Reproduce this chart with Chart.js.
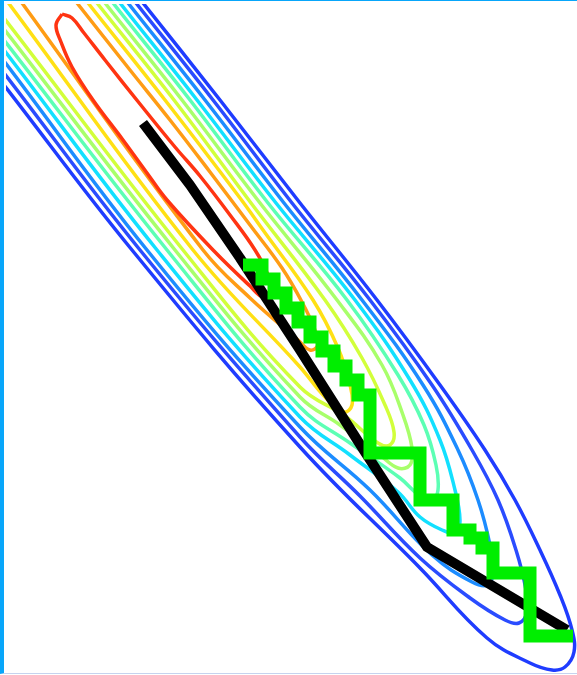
<!DOCTYPE html>
<html>
<head>
<meta charset="utf-8">
<title>Contours and descent paths</title>
<script src="https://cdn.jsdelivr.net/npm/chart.js@4.4.0/dist/chart.umd.min.js"></script>
<style>
  html, body { margin: 0; padding: 0; background: #fff; }
  #frame {
    position: absolute; left: 0; top: 0;
    width: 573px; height: 672px;
    border-left: 4px solid #08a6fa;
    border-top: 1px solid #08a6fa;
    border-bottom: 1px solid #c6d3ee;
  }
  canvas { display: block; }
</style>
</head>
<body>
<div id="frame"><canvas id="plot" width="573" height="672"></canvas></div>
<script>
// Contour lines, outermost first: each is a list of [x, y] points
const levelBlue1 = [[1.25,6.95],[1.43,6.72],[2.20,5.75],[3.00,4.72],[3.77,3.75],[4.40,2.90],[4.85,2.25],[5.15,1.75],[5.40,1.25],[5.60,0.80],[5.72,0.45],[5.74,0.23],[5.65,0.08],[5.52,0.05],[5.30,0.12],[4.87,0.37],[4.20,1.07],[3.00,2.28],[1.32,4.25],[0.04,5.90],[-0.20,6.21]];
const levelBlue2 = [[1.18,6.95],[1.36,6.72],[2.13,5.75],[2.92,4.72],[3.70,3.75],[4.32,2.90],[4.72,2.25],[4.98,1.75],[5.16,1.25],[5.26,0.85],[5.27,0.63],[5.19,0.52],[5.05,0.55],[4.70,0.77],[4.20,1.17],[3.60,1.79],[3.00,2.38],[1.40,4.25],[0.04,6.02],[-0.20,6.33]];
const levelSky = [[1.10,6.95],[1.28,6.72],[2.05,5.75],[2.84,4.72],[3.62,3.75],[4.23,2.90],[4.58,2.25],[4.78,1.75],[4.90,1.30],[4.93,1.03],[4.88,0.90],[4.72,0.93],[4.32,1.20],[3.70,1.85],[3.00,2.48],[1.47,4.25],[0.04,6.14],[-0.20,6.45]];
const levelCyan = [[1.02,6.95],[1.20,6.72],[1.97,5.75],[2.76,4.72],[3.55,3.75],[4.10,2.95],[4.40,2.35],[4.55,1.85],[4.60,1.55],[4.56,1.42],[4.42,1.45],[4.20,1.58],[3.98,1.83],[3.50,2.20],[3.00,2.58],[1.57,4.25],[0.04,6.25],[-0.20,6.56]];
const levelAqua = [[0.95,6.95],[1.13,6.72],[1.90,5.75],[2.68,4.72],[3.47,3.75],[3.98,3.00],[4.24,2.50],[4.36,2.10],[4.38,1.85],[4.32,1.75],[4.20,1.79],[4.00,1.97],[3.50,2.32],[3.00,2.68],[1.67,4.25],[0.04,6.35],[-0.20,6.66]];
const levelLime = [[0.87,6.95],[1.05,6.72],[1.82,5.75],[2.60,4.72],[3.37,3.75],[3.82,3.10],[4.03,2.60],[4.12,2.27],[4.10,2.10],[3.98,2.07],[3.80,2.20],[3.40,2.50],[3.00,2.78],[1.75,4.25],[0.04,6.46],[-0.20,6.77]];
const levelChartreuse = [[0.79,6.95],[0.97,6.72],[1.74,5.75],[2.51,4.72],[3.25,3.75],[3.62,3.17],[3.85,2.70],[3.94,2.43],[3.90,2.30],[3.78,2.32],[3.45,2.59],[3.00,2.88],[1.83,4.25],[0.04,6.57],[-0.20,6.88]];
const levelYellow = [[0.70,6.95],[0.88,6.72],[1.65,5.75],[2.40,4.77],[2.63,4.45],[3.13,3.75],[3.38,3.27],[3.50,2.90],[3.52,2.70],[3.44,2.63],[3.25,2.78],[3.00,3.08],[1.93,4.25],[0.04,6.78],[-0.10,6.96]];
const levelOrange = [[0.59,6.95],[0.77,6.72],[1.30,6.05],[1.70,5.55],[2.10,5.03],[2.50,4.50],[2.82,4.07],[3.02,3.73],[3.15,3.45],[3.18,3.30],[3.10,3.25],[2.98,3.35],[2.50,3.77],[2.03,4.25],[0.22,6.72],[0.08,6.92]];
const levelRed = [[0.62,6.61],[0.72,6.57],[0.84,6.42],[1.05,6.15],[1.40,5.71],[1.75,5.28],[2.00,4.99],[2.30,4.60],[2.55,4.25],[2.68,4.00],[2.70,3.85],[2.63,3.78],[2.50,3.89],[2.15,4.23],[1.67,4.75],[1.47,5.02],[1.23,5.35],[0.93,5.75],[0.72,6.08],[0.61,6.33],[0.56,6.50],[0.62,6.61]];

const contourLevels = [levelBlue1, levelBlue2, levelSky, levelCyan, levelAqua, levelLime, levelChartreuse, levelYellow, levelOrange, levelRed];
const contourColors = ['#1f3cff', '#2a4cff', '#1c8cff', '#12e0ff', '#5cffb4', '#a8ff6a', '#d2ff3a', '#ffe014', '#ff9c14', '#ff3412'];

// Optimizer iterates
const newtonPath = [[1.43,5.52],[1.90,4.90],[2.40,4.17],[3.00,3.25],[3.63,2.26],[4.27,1.28],[5.67,0.45]];
const zigzagPath = [[2.43,4.10],[2.62,4.10],[2.62,3.96],[2.74,3.96],[2.74,3.82],[2.86,3.82],[2.86,3.67],[2.98,3.67],[2.98,3.53],[3.10,3.53],[3.10,3.38],[3.22,3.38],[3.22,3.24],[3.34,3.24],[3.34,3.09],[3.46,3.09],[3.46,2.95],[3.58,2.95],[3.58,2.80],[3.70,2.80],[3.70,2.22],[4.20,2.22],[4.20,1.75],[4.53,1.75],[4.53,1.45],[4.70,1.45],[4.70,1.37],[4.82,1.37],[4.82,1.27],[4.93,1.27],[4.93,1.02],[5.30,1.02],[5.30,0.39],[5.73,0.39]];

const toPoints = pts => pts.map(([x, y]) => ({ x, y }));

// first dataset is painted last, so the paths go before the contours
const datasets = [
  { data: toPoints(zigzagPath), borderColor: '#00ee00', borderWidth: 13, tension: 0,
    borderJoinStyle: 'miter', borderCapStyle: 'butt' },
  { data: toPoints(newtonPath), borderColor: '#000000', borderWidth: 10, tension: 0,
    borderJoinStyle: 'round', borderCapStyle: 'butt' }
];
for (let i = contourLevels.length - 1; i >= 0; i--) {
  datasets.push({
    data: toPoints(contourLevels[i]),
    borderColor: contourColors[i],
    borderWidth: 3.5,
    tension: 0.4,
    clip: 0
  });
}

new Chart(document.getElementById('plot'), {
  type: 'scatter',
  data: { datasets },
  options: {
    responsive: false,
    animation: false,
    events: [],
    layout: { padding: { left: 2, top: 3, right: 0, bottom: 0 } },
    datasets: { scatter: { showLine: true, pointRadius: 0 } },
    elements: { point: { radius: 0 }, line: { capBezierPoints: false, fill: false } },
    plugins: { legend: { display: false }, tooltip: { enabled: false } },
    scales: {
      x: { type: 'linear', display: false, min: 0.06, max: 5.77 },
      y: { type: 'linear', display: false, min: 0.02, max: 6.71 }
    }
  }
});
</script>
</body>
</html>
